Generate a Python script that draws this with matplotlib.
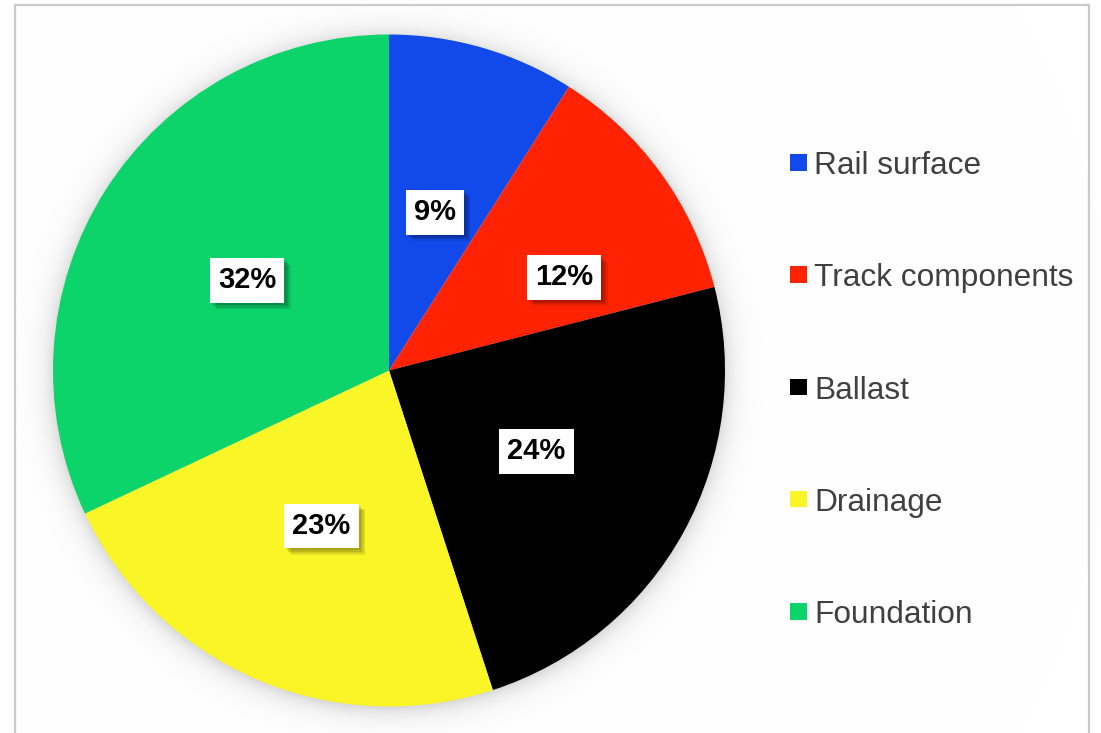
import numpy as np
import matplotlib
matplotlib.use("Agg")
import matplotlib.pyplot as plt
import matplotlib.patheffects as pe
from matplotlib.patches import Rectangle
from matplotlib.lines import Line2D

# Data
categories = ["Rail surface", "Track components", "Ballast", "Drainage", "Foundation"]
shares = [9, 12, 24, 23, 32]
colors = ["#1149EA", "#FF2303", "#000000", "#F9F526", "#0CD46A"]

W, H = 1101, 733
fig = plt.figure(figsize=(W / 100, H / 100), dpi=100)
ax = fig.add_axes([0, 0, 1, 1])

plt.rcParams["font.family"] = ["Liberation Sans", "DejaVu Sans"]

cx, cy, R = 389.0, H - 370.5, 336.0

# soft glow around the pie
yy, xx = np.mgrid[0:H, 0:W]
dist = np.hypot(xx + 0.5 - cx, (H - yy - 0.5) - (cy - 2))
dark = np.where(dist > R - 2, 0.13 * np.exp(-(dist - R) / 11.0), 0.13)
img = np.clip(1 - dark, 0, 1)
ax.imshow(np.dstack([img, img, img]), extent=(0, W, 0, H), origin="upper",
          zorder=0, interpolation="bilinear")

wedges, _ = ax.pie(shares, colors=colors, startangle=90, counterclock=False,
                   center=(cx, cy), radius=R, wedgeprops=dict(linewidth=0),
                   frame=True)
ax.set_xlim(0, W)
ax.set_ylim(0, H)
ax.set_aspect("auto")
ax.axis("off")

# percentage labels in the wedges
label_r = [0.49, 0.59, 0.50, 0.505, 0.50]
label_shift = [0.0, -8.0, 0.0, 0.0, 0.0]  # degrees
total = float(sum(shares))
start = 90.0
shadow = [pe.SimplePatchShadow(offset=(o, -o), shadow_rgbFace="#000000", alpha=0.09)
          for o in (1.5, 2.5, 3.5, 4.5)]
for i, v in enumerate(shares):
    sweep = 360.0 * v / total
    mid = np.deg2rad(start - sweep / 2 + label_shift[i])
    start -= sweep
    x = cx + label_r[i] * R * np.cos(mid)
    y = cy + label_r[i] * R * np.sin(mid)
    t = ax.text(x, y, f"{v}%", ha="center", va="center", fontsize=21,
                fontweight="bold", color="black", zorder=5,
                bbox=dict(boxstyle="square,pad=0.28", fc="white", ec="none"))
    t.get_bbox_patch().set_path_effects(shadow + [pe.Normal()])

# legend
leg_y0, leg_dy = 162.0, 112.3
for i, (name, c) in enumerate(zip(categories, colors)):
    y = H - (leg_y0 + i * leg_dy)
    ax.add_patch(Rectangle((790, y - 8.5), 16.5, 16.5, fc=c, ec="none", zorder=5))
    ax.text(814, y - 0.5, name, ha="left", va="center_baseline", fontsize=22.8,
            color="#404040", zorder=5)

# chart border
bc = "#CACACA"
ax.add_line(Line2D([14.5, 14.5], [-5, H - 4.5], color=bc, lw=1.6, zorder=6))
ax.add_line(Line2D([1089.3, 1089.3], [-5, H - 4.5], color=bc, lw=1.6, zorder=6))
ax.add_line(Line2D([14.5, 1089.3], [H - 4.5, H - 4.5], color=bc, lw=1.6, zorder=6))

fig.savefig("out.png", dpi=100)
